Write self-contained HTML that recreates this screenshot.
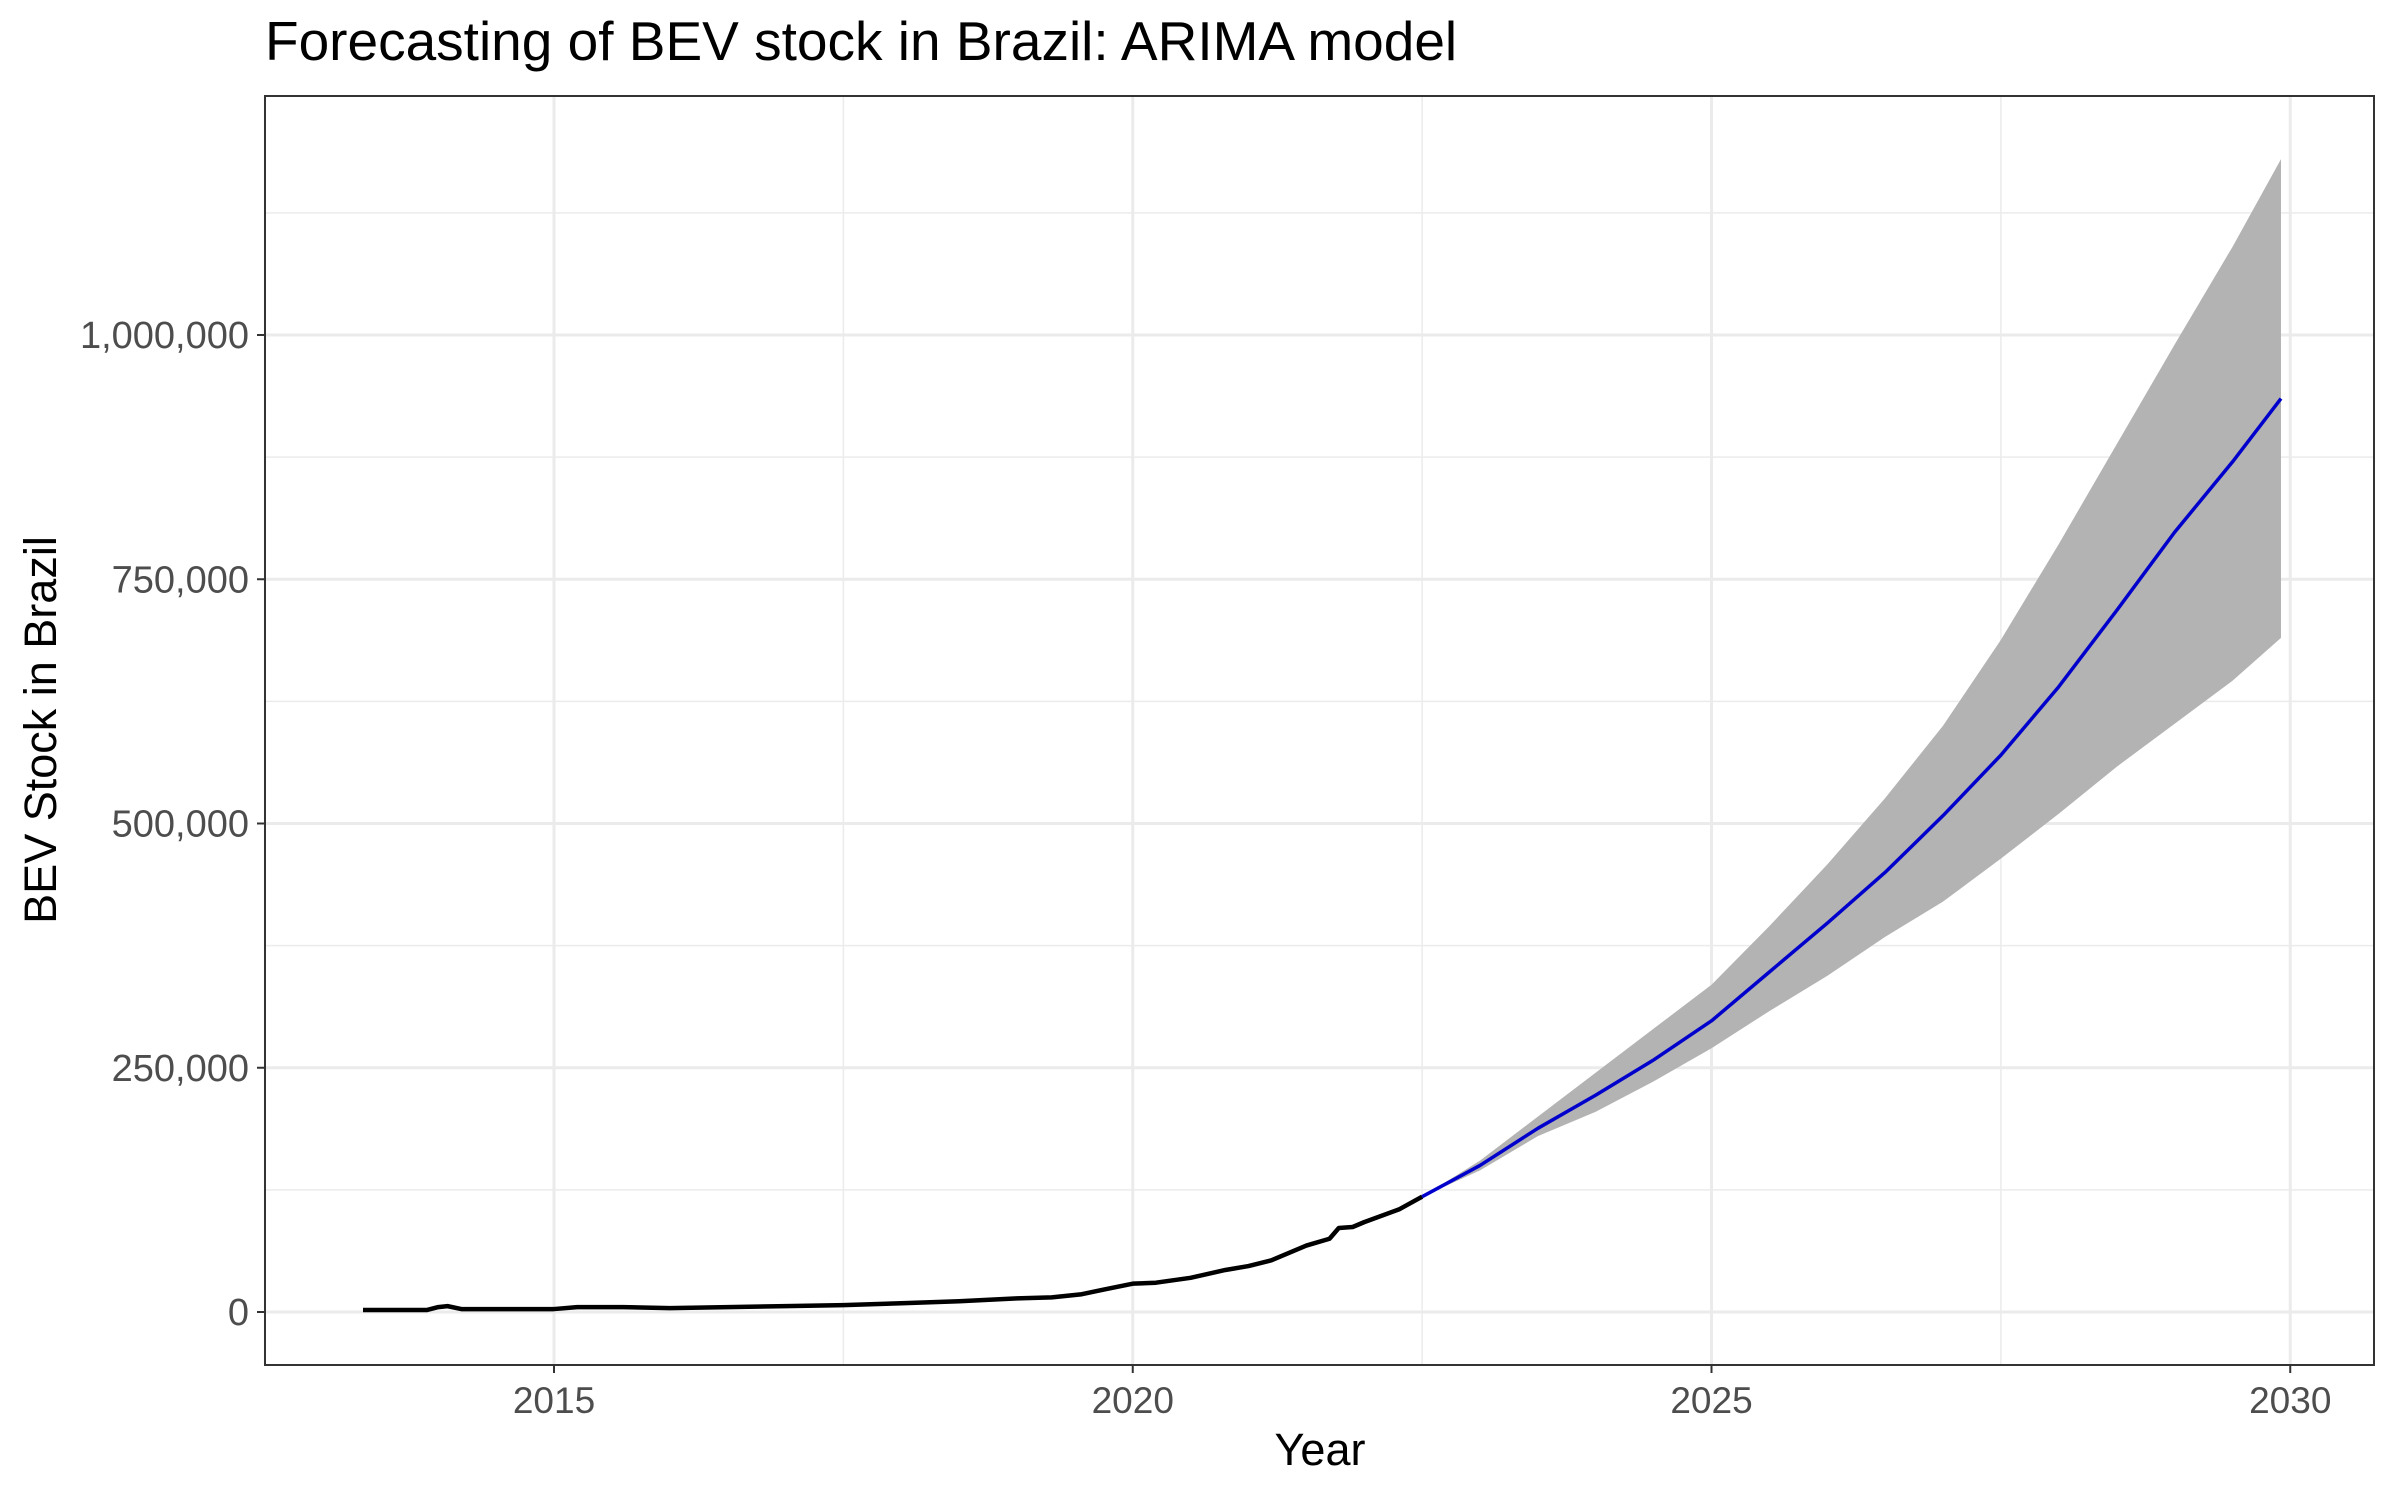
<!DOCTYPE html>
<html><head><meta charset="utf-8"><style>
html,body{margin:0;padding:0;background:#fff;}
svg text{font-family:"Liberation Sans",Arial,sans-serif;}
</style></head><body>
<svg id="chart" width="2400" height="1500" xmlns="http://www.w3.org/2000/svg">
<rect width="2400" height="1500" fill="#fff"/>
<text x="265" y="60" font-size="55" fill="#000">Forecasting of BEV stock in Brazil: ARIMA model</text>
<g id="grid"></g>
<g id="marks"></g>
<rect x="265" y="96" width="2109" height="1269" fill="none" stroke="#333" stroke-width="2"/>
<g id="axes"></g>
<text x="1320" y="1465" font-size="45" text-anchor="middle" fill="#000">Year</text>
<text transform="translate(56,730) rotate(-90)" font-size="45" text-anchor="middle" fill="#000">BEV Stock in Brazil</text>
</svg>
<script>
const histYears=[2013.35,2013.9,2014.0,2014.08,2014.2,2014.6,2015.0,2015.2,2015.6,2016.0,2016.5,2017.0,2017.5,2018.0,2018.5,2019.0,2019.3,2019.55,2019.75,2020.0,2020.2,2020.5,2020.8,2021.0,2021.2,2021.5,2021.7,2021.78,2021.9,2022.0,2022.3,2022.5];
const histValues=[2,2,5,6,3,3,3,5,5,4,5,6,7,9,11,14,15,18,23,29,30,35,43,47,53,68,75,86,87,92,105,118];
const fcYears=[2022.5,2023,2023.5,2024,2024.5,2025,2025.5,2026,2026.5,2027,2027.5,2028,2028.5,2029,2029.5,2029.92];
const fcMean=[118,150,188,222,258,298,348,398,450,508,570,640,718,798,870,935];
const fcLower=[118,145,180,205,236,270,308,344,384,420,464,510,558,602,646,690];
const fcUpper=[118,155,200,245,290,335,395,458,526,600,688,786,888,990,1090,1180];
const xTicks=[2015,2020,2025,2030];
const yTicks=[0,250000,500000,750000,1000000];
const yTickLabels=["0","250,000","500,000","750,000","1,000,000"];

const NS="http://www.w3.org/2000/svg";
const X0=265,X1=2374,Y0=96,Y1=1365;
function xs(yr){return 554+(yr-2015)*115.75;}
function ys(v){return 1312-v*0.000977;}
function mk(tag,attrs,parent){const e=document.createElementNS(NS,tag);for(const k in attrs)e.setAttribute(k,attrs[k]);parent.appendChild(e);return e;}
const grid=document.getElementById('grid'),marks=document.getElementById('marks'),axes=document.getElementById('axes');
for(let i=0;i<xTicks.length;i++){const m=xTicks[i]-2.5;const e=mk('line',{x1:xs(m),x2:xs(m),y1:Y0,y2:Y1,stroke:'#ebebeb','stroke-width':1.5},grid);

}
for(let i=0;i<yTicks.length;i++){const m=yTicks[i]+125000;const e=mk('line',{x1:X0,x2:X1,y1:ys(m),y2:ys(m),stroke:'#ebebeb','stroke-width':1.5},grid);

}
xTicks.forEach(t=>{const x=xs(t);
const g=mk('line',{x1:x,x2:x,y1:Y0,y2:Y1,stroke:'#ebebeb','stroke-width':3},grid);


const tk=mk('line',{x1:x,x2:x,y1:Y1,y2:Y1+8,stroke:'#333','stroke-width':2},axes);


const tx=mk('text',{x:x,y:Y1+48,'font-size':37,fill:'#4d4d4d','text-anchor':'middle'},axes);tx.textContent=t;

});
yTicks.forEach((t,i)=>{const y=ys(t);
const g=mk('line',{x1:X0,x2:X1,y1:y,y2:y,stroke:'#ebebeb','stroke-width':3},grid);


const tk=mk('line',{x1:X0-8,x2:X0,y1:y,y2:y,stroke:'#333','stroke-width':2},axes);


const tx=mk('text',{x:X0-16,y:y+13,'font-size':38,fill:'#4d4d4d','text-anchor':'end'},axes);tx.textContent=yTickLabels[i];

});
let d='';fcYears.forEach((yr,i)=>{d+=(i?'L':'M')+xs(yr)+','+ys(fcUpper[i]*1000);});
for(let i=fcYears.length-1;i>=0;i--)d+='L'+xs(fcYears[i])+','+ys(fcLower[i]*1000);
const band=mk('path',{d:d+'Z',fill:'#b3b3b3'},marks);


const hp=mk('polyline',{points:histYears.map((y,i)=>xs(y)+','+ys(histValues[i]*1000)).join(' '),fill:'none',stroke:'#000','stroke-width':4.5,'stroke-linejoin':'round'},marks);


const fp=mk('polyline',{points:fcYears.map((y,i)=>xs(y)+','+ys(fcMean[i]*1000)).join(' '),fill:'none',stroke:'#0000cc','stroke-width':3.5,'stroke-linejoin':'round'},marks);


</script>
</body></html>
